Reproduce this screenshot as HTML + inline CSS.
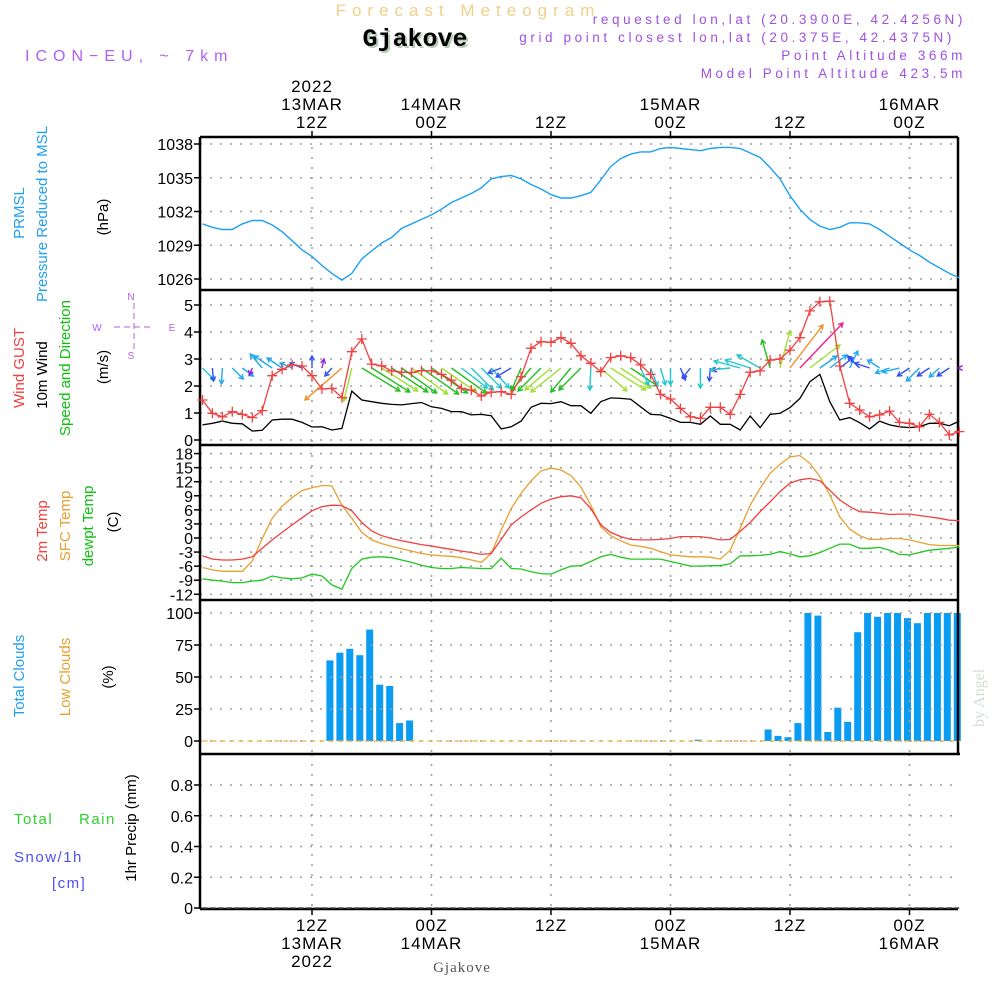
<!DOCTYPE html>
<html><head><meta charset="utf-8">
<style>
html,body{margin:0;padding:0;background:#fff;}
svg{display:block;}
text{font-family:"Liberation Sans",sans-serif;}
</style></head>
<body>
<svg id="chart" width="1000" height="1000" viewBox="0 0 1000 1000" xmlns="http://www.w3.org/2000/svg">
<rect x="0" y="0" width="1000" height="1000" fill="#fff"/>
<text x="468" y="16" text-anchor="middle" font-size="17" fill="#f2cf8a" letter-spacing="6">Forecast Meteogram</text>
<text x="417" y="48" text-anchor="middle" font-size="25" font-weight="bold" fill="#b8ccb8" style="font-family:'Liberation Mono',monospace">Gjakove</text>
<text x="415" y="46" text-anchor="middle" font-size="25" font-weight="bold" fill="#000" style="font-family:'Liberation Mono',monospace">Gjakove</text>
<text x="25" y="61" font-size="16" fill="#b060f0" letter-spacing="6">ICON−EU, ~ 7km</text>
<g font-size="13.5" fill="#a050e0" text-anchor="end" letter-spacing="3.6">
<text x="966" y="24">requested lon,lat (20.3900E, 42.4256N)</text>
<text x="955" y="42">grid point closest lon,lat (20.375E, 42.4375N)</text>
<text x="966" y="60">Point Altitude 366m</text>
<text x="966" y="78">Model Point Altitude 423.5m</text>
</g>
<text transform="translate(984,727) rotate(-90)" font-size="16" fill="#d4ddd4" style="font-family:'Liberation Serif',serif">by Angel</text>
<text x="462" y="972" text-anchor="middle" font-size="15" fill="#555" style="font-family:'Liberation Serif',serif" letter-spacing="1">Gjakove</text>

<g font-size="15">
<text transform="translate(24,213) rotate(-90)" text-anchor="middle" fill="#20a0f0">PRMSL</text>
<text transform="translate(47,214) rotate(-90)" text-anchor="middle" fill="#20a0f0">Pressure Reduced to MSL</text>
<text transform="translate(108,217) rotate(-90)" text-anchor="middle" fill="#000">(hPa)</text>
<text transform="translate(24,368) rotate(-90)" text-anchor="middle" fill="#f04040">Wind GUST</text>
<text transform="translate(47,375) rotate(-90)" text-anchor="middle" fill="#000">10m Wind</text>
<text transform="translate(70,368) rotate(-90)" text-anchor="middle" fill="#10c010">Speed and Direction</text>
<text transform="translate(108,367) rotate(-90)" text-anchor="middle" fill="#000">(m/s)</text>
<text transform="translate(47,531) rotate(-90)" text-anchor="middle" fill="#f04040">2m Temp</text>
<text transform="translate(70,526) rotate(-90)" text-anchor="middle" fill="#e8a030">SFC Temp</text>
<text transform="translate(93,526) rotate(-90)" text-anchor="middle" fill="#10c010">dewpt Temp</text>
<text transform="translate(118,522) rotate(-90)" text-anchor="middle" fill="#000">(C)</text>
<text transform="translate(24,676) rotate(-90)" text-anchor="middle" fill="#20a0f0">Total Clouds</text>
<text transform="translate(70,677) rotate(-90)" text-anchor="middle" fill="#e8a030">Low Clouds</text>
<text transform="translate(113,677) rotate(-90)" text-anchor="middle" fill="#000">(%)</text>
<text transform="translate(136,828) rotate(-90)" text-anchor="middle" fill="#000">1hr Precip (mm)</text>
<text x="14" y="824" fill="#30d030" letter-spacing="1.5">Total</text>
<text x="79" y="824" fill="#30d030" letter-spacing="1.5">Rain</text>
<text x="14" y="862" fill="#5050f0" letter-spacing="1.5">Snow/1h</text>
<text x="52" y="888" fill="#5050f0" letter-spacing="1.5">[cm]</text>
</g>
<g fill="#b060f0" stroke="none" font-size="10">
<text x="131" y="300" text-anchor="middle">N</text>
<text x="131" y="359" text-anchor="middle">S</text>
<text x="97" y="331" text-anchor="middle">W</text>
<text x="172" y="331" text-anchor="middle">E</text>
<line x1="114" y1="327" x2="153" y2="327" stroke="#b060f0" stroke-dasharray="6,4"/>
<line x1="134" y1="303" x2="134" y2="350" stroke="#b060f0" stroke-dasharray="6,4"/>
</g>
<g id="plot"></g>
</svg>
<script>
const hours = [];
for (let i = 1; i <= 77; i++) hours.push(i);
const pressure = [1030.9,1030.6,1030.4,1030.4,1030.9,1031.2,1031.2,1030.8,1030.2,1029.4,
1028.6,1028.0,1027.2,1026.5,1025.9,1026.5,1027.8,1028.5,1029.2,1029.7,
1030.5,1030.9,1031.3,1031.7,1032.2,1032.8,1033.2,1033.6,1034.1,1034.9,
1035.1,1035.2,1034.9,1034.4,1034.0,1033.5,1033.2,1033.2,1033.4,1033.7,
1034.8,1036.0,1036.7,1037.1,1037.3,1037.3,1037.6,1037.7,1037.6,1037.5,
1037.4,1037.6,1037.7,1037.7,1037.6,1037.2,1036.8,1035.9,1034.9,1033.4,
1032.2,1031.3,1030.7,1030.4,1030.6,1031.0,1031.0,1030.9,1030.4,1029.8,
1029.2,1028.6,1028.1,1027.5,1027.0,1026.5,1026.1];
const gust = [1.48,0.99,0.86,1.05,0.95,0.83,1.09,2.38,2.62,2.78,
2.74,2.38,1.89,1.91,1.57,3.27,3.74,2.81,2.75,2.56,
2.51,2.50,2.57,2.56,2.43,2.22,1.91,1.85,1.63,1.77,
1.79,1.69,2.35,3.40,3.64,3.62,3.79,3.58,3.12,2.84,
2.53,3.05,3.12,3.05,2.78,2.43,1.69,1.52,1.17,0.86,
0.80,1.21,1.21,0.95,1.69,2.51,2.56,2.96,3.00,3.33,
3.79,4.78,5.12,5.14,2.74,1.36,1.11,0.86,0.93,1.07,
0.65,0.62,0.49,0.95,0.65,0.19,0.31];
const windSpeed = [0.56,0.62,0.70,0.62,0.60,0.33,0.36,0.74,0.77,0.77,
0.65,0.48,0.49,0.37,0.43,1.81,1.48,1.42,1.36,1.32,
1.30,1.35,1.39,1.23,1.17,1.05,1.05,0.93,0.95,0.90,
0.41,0.49,0.70,1.21,1.36,1.35,1.42,1.27,1.27,0.99,
1.42,1.56,1.54,1.51,1.23,0.95,0.93,0.80,0.65,0.65,
0.58,0.89,0.58,0.58,0.37,0.89,0.46,0.95,0.99,1.20,
1.54,2.16,2.43,1.42,0.74,0.83,0.64,0.41,0.70,0.56,
0.49,0.46,0.49,0.62,0.62,0.53,0.70];
const windU = [12,1,-1,11,11,-3,-12,-18,-15,-12,-12,0,2,-7,-37,-8,38,38,36,36,35,36,37,36,35,35,26,22,20,18,
-13,-15,-10,-20,-23,-26,-30,-20,-22,-1,26,35,30,27,8,7,5,0,5,-8,0,-1,-8,-20,-26,-25,-23,-8,10,33,
43,30,17,17,13,8,-12,-15,-12,-14,-17,-12,-13,-12,-10,-12,-1];
const windV = [-12,-13,-16,-11,-8,-7,14,12,10,5,5,12,9,-8,-32,-33,-23,-24,-23,-24,-25,-26,-26,-25,-24,-25,-20,-22,-20,-20,
-5,-9,-23,-23,-23,-22,-24,-24,-22,-22,-23,-22,-20,-18,-17,-18,-17,-17,-12,-10,-20,-13,-3,-2,7,8,13,28,37,43,
45,23,12,13,10,17,12,5,8,-5,-4,-8,-13,-8,-9,-8,0];
const windColor = ['c','b','s','s','s','p','s','s','s','s','b','b','p','b','o','l','g','g','l','g','g','l','g','g','l','g','c','c','c','c',
'b','b','g','g','g','l','l','g','g','c','l','l','l','g','c','c','c','c','b','b','c','b','p','c','c','c','c','g','l','o',
'k','l','s','s','b','s','b','b','s','s','s','b','s','b','s','b','p'];
const temp2m = [-3.8,-4.5,-4.7,-4.7,-4.5,-4.0,-2.2,-0.4,1.2,2.8,
4.3,5.8,6.7,7.0,6.9,5.8,3.3,1.5,0.5,-0.1,
-0.6,-1.0,-1.4,-1.7,-2.1,-2.4,-2.8,-3.1,-3.5,-3.3,
-0.3,2.8,4.5,6.0,7.4,8.3,8.8,9.0,8.6,6.3,
2.8,1.2,0.3,-0.3,-0.4,-0.4,-0.3,-0.1,0.3,0.3,
0.3,0.0,-0.4,-0.3,1.4,3.3,5.6,7.7,9.9,11.7,
12.4,12.7,12.2,10.2,8.1,6.7,5.6,5.5,5.3,5.0,
5.1,5.1,4.8,4.5,4.2,3.8,3.7];
const tempSfc = [-6.3,-6.8,-7.1,-7.1,-7.1,-4.9,-0.1,4.2,6.8,8.6,
10.1,10.7,11.2,11.1,7.0,4.2,1.2,-0.4,-1.2,-1.8,
-2.3,-2.8,-3.3,-3.6,-3.8,-3.9,-4.2,-4.7,-5.2,-3.3,
1.7,6.3,9.5,12.2,14.3,14.9,14.5,13.3,10.9,7.0,
2.4,0.5,-0.6,-1.5,-1.8,-2.2,-2.9,-3.6,-3.8,-4.0,
-4.0,-4.1,-4.5,-2.6,2.1,7.0,10.6,13.8,15.7,17.3,
17.6,15.9,13.1,9.2,4.5,1.9,0.5,-0.3,-0.3,-0.1,
-0.1,-0.4,-0.9,-1.4,-1.6,-1.6,-1.6];
const dewpt = [-8.7,-9.0,-9.2,-9.5,-9.5,-9.2,-9.0,-8.1,-8.5,-8.7,
-8.5,-7.7,-8.1,-10.0,-10.9,-6.5,-4.5,-4.1,-4.0,-4.2,
-4.7,-5.2,-5.8,-6.3,-6.5,-6.5,-6.3,-6.4,-6.5,-6.5,
-4.3,-6.5,-6.6,-7.2,-7.6,-7.7,-6.8,-6.0,-5.9,-5.0,
-4.0,-3.5,-4.1,-4.5,-4.5,-4.5,-4.5,-5.0,-5.5,-6.0,
-6.0,-5.9,-5.9,-5.5,-3.8,-3.8,-3.7,-3.5,-2.9,-3.4,
-4.0,-3.8,-3.1,-2.2,-1.3,-1.3,-2.2,-2.2,-2.0,-2.6,
-3.5,-3.6,-3.1,-2.6,-2.4,-2.2,-1.9];
const totalClouds = [0,0,0,0,0,0,0,0,0,0,0,0,0,63,69,72,67,87,44,43,14,16,0,0,0,0,0,0,0,0,
0,0,0,0,0,0,0,0,0,0,0,0,0,0,0,0,0,0,0,0,1,0,0,0,0,0,0,9,4,3,
14,100,98,7,26,15,85,100,97,100,100,96,92,100,100,100,100];
const lowClouds = new Array(77).fill(0);
const precip = new Array(77).fill(0);
const pressTicks = [1038,1035,1032,1029,1026];
const windTicks = [0,1,2,3,4,5];
const tempTicks = [18,15,12,9,6,3,0,-3,-6,-9,-12];
const cloudTicks = [0,25,50,75,100];
const precipTicks = [0,0.2,0.4,0.6,0.8];
const gridHours = [12,24,36,48,60,72];
const topLabels = [["2022","13MAR","12Z"],["","14MAR","00Z"],["","","12Z"],["","15MAR","00Z"],["","","12Z"],["","16MAR","00Z"]];
const bottomLabels = [["12Z","13MAR","2022"],["00Z","14MAR",""],["12Z","",""],["00Z","15MAR",""],["12Z","",""],["00Z","16MAR",""]];

const X0 = 200, X1 = 958;
const xH = h => 312 + (h - 12) * 9.958;
const yP = p => 144 + (1038 - p) * 11.25;
const yW = v => 440 - v * 27;
const yT = t => 538 - t * 4.69;
const yC = c => 741 - c * 1.28;
const yR = r => 908 - r * 153.75;
const COLORS = {c:'#20c8d0',b:'#3050f0',s:'#20a8f0',p:'#9020e0',o:'#f09020',l:'#a0e030',g:'#20c020',k:'#f0208a'};

const NS = 'http://www.w3.org/2000/svg';
const plot = document.getElementById('plot');
function mk(tag, attrs, parent) {
  const e = document.createElementNS(NS, tag);
  for (const k in attrs) e.setAttribute(k, attrs[k]);
  (parent || plot).appendChild(e);
  return e;
}
function polyPts(vals, yf) { return vals.map((v, i) => xH(hours[i]).toFixed(1) + ',' + yf(v).toFixed(1)).join(' '); }

const panels = [
  {name:'pressure', top:137, bot:290, ticks:pressTicks, yf:yP, fmt:v=>String(v)},
  {name:'wind', top:290, bot:445, ticks:windTicks, yf:yW, fmt:v=>String(v)},
  {name:'temperature', top:445, bot:600, ticks:tempTicks, yf:yT, fmt:v=>String(v)},
  {name:'clouds', top:600, bot:754, ticks:cloudTicks, yf:yC, fmt:v=>String(v)},
  {name:'precip', top:754, bot:909, ticks:precipTicks, yf:yR, fmt:v=>v===0?'0':v.toFixed(1)}
];

const cg = mk('g', {});


totalClouds.forEach((c, i) => {
  if (c <= 0) return;
  const r = mk('rect', {x:(xH(hours[i]) - 5.5).toFixed(1), y:yC(c).toFixed(1), width:7, height:(yC(0) - yC(c)).toFixed(1), fill:'#0a9cf2'}, cg);
  
  
});

panels.forEach(p => {
  const g = mk('g', {});
  
  
  p.ticks.forEach(t => {
    const y = p.yf(t);
    mk('line', {x1:X0, y1:y, x2:X1, y2:y, stroke:'#a0a0a0', 'stroke-width':1.6, 'stroke-dasharray':'2,8'}, g);
    mk('line', {x1:X0-6, x2:X0, y1:y, y2:y, stroke:'#000', 'stroke-width':1.5}, g);
    const tx = mk('text', {x:193, y:y+6, 'text-anchor':'end', 'font-size':16, fill:'#000'}, g);
    tx.textContent = p.fmt(t);
    
    
  });
  gridHours.forEach(h => {
    mk('line', {x1:xH(h), x2:xH(h), y1:p.top, y2:p.bot, stroke:'#a0a0a0', 'stroke-width':1.6, 'stroke-dasharray':'2,8'}, g);
  });
});

const fr = mk('g', {fill:'none', stroke:'#000', 'stroke-width':2.5});


mk('line', {x1:X0, y1:137, x2:X0, y2:909}, fr);
mk('line', {x1:X1, y1:137, x2:X1, y2:754}, fr);
[137, 290, 445, 600].forEach(y => mk('line', {x1:X0, y1:y, x2:X1, y2:y}, fr));
mk('line', {x1:X0, y1:754, x2:X1+2, y2:754}, fr);
mk('line', {x1:X0, y1:909, x2:X1, y2:909}, fr);
gridHours.forEach(h => {
  mk('line', {x1:xH(h), y1:131, x2:xH(h), y2:137, 'stroke-width':1.5}, fr);
  mk('line', {x1:xH(h), y1:909, x2:xH(h), y2:915, 'stroke-width':1.5}, fr);
});

gridHours.forEach((h, i) => {
  const x = xH(h);
  topLabels[i].forEach((s, j) => {
    if (!s) return;
    const t = mk('text', {x:x, y:92 + j*18, 'text-anchor':'middle', 'font-size':17, fill:'#000', 'letter-spacing':1});
    t.textContent = s;
    
    
  });
  bottomLabels[i].forEach((s, j) => {
    if (!s) return;
    const t = mk('text', {x:x, y:931 + j*18, 'text-anchor':'middle', 'font-size':17, fill:'#000', 'letter-spacing':1});
    t.textContent = s;
    
    
  });
});

const pl = mk('polyline', {points:polyPts(pressure, yP), fill:'none', stroke:'#1aa0f5', 'stroke-width':1.4});



const wg = mk('g', {'stroke-width':1.4, fill:'none'});


hours.forEach((h, i) => {
  const x0 = xH(h), y0 = 368;
  const dx = windU[i], dy = -windV[i];
  const len = Math.hypot(dx, dy);
  if (len < 1) return;
  const x1 = x0 + dx, y1 = y0 + dy;
  const col = COLORS[windColor[i]];
  const ux = dx/len, uy = dy/len, hl = 5;
  const a = mk('path', {d:`M${x0.toFixed(1)},${y0} L${x1.toFixed(1)},${y1.toFixed(1)} M${(x1 - hl*(ux*0.87 - uy*0.5)).toFixed(1)},${(y1 - hl*(uy*0.87 + ux*0.5)).toFixed(1)} L${x1.toFixed(1)},${y1.toFixed(1)} L${(x1 - hl*(ux*0.87 + uy*0.5)).toFixed(1)},${(y1 - hl*(uy*0.87 - ux*0.5)).toFixed(1)}`, stroke:col}, wg);
  
  
});

const wl = mk('polyline', {points:polyPts(windSpeed, yW), fill:'none', stroke:'#000', 'stroke-width':1.3});


const gl = mk('polyline', {points:polyPts(gust, yW), fill:'none', stroke:'#f04040', 'stroke-width':1.3});


const gm = mk('g', {stroke:'#f04040', 'stroke-width':1.3});


gust.forEach((v, i) => {
  const x = xH(hours[i]), y = yW(v);
  const m = mk('path', {d:`M${(x-5).toFixed(1)},${y.toFixed(1)} H${(x+5).toFixed(1)} M${x.toFixed(1)},${(y-5).toFixed(1)} V${(y+5).toFixed(1)}`}, gm);
  
  
});

const tS = mk('polyline', {points:polyPts(tempSfc, yT), fill:'none', stroke:'#e8a030', 'stroke-width':1.3});


const t2 = mk('polyline', {points:polyPts(temp2m, yT), fill:'none', stroke:'#f04040', 'stroke-width':1.3});


const td = mk('polyline', {points:polyPts(dewpt, yT), fill:'none', stroke:'#20c820', 'stroke-width':1.3});



const lc = mk('polyline', {points:polyPts(lowClouds, yC), fill:'none', stroke:'#e8b040', 'stroke-width':1.2, 'stroke-dasharray':'5,4'});


const pr = mk('polyline', {points:polyPts(precip, yR), fill:'none', stroke:'#444', 'stroke-width':1.5, 'stroke-dasharray':'5,3'});


</script>
</body></html>
